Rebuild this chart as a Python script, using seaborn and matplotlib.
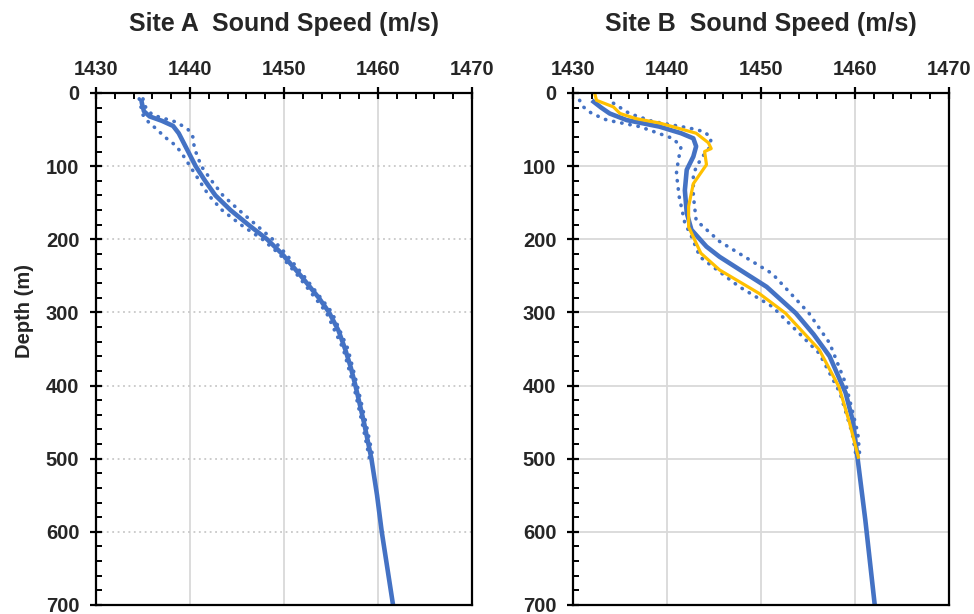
import matplotlib
matplotlib.use("Agg")
import matplotlib.pyplot as plt
from matplotlib.ticker import MultipleLocator
import seaborn as sns
import pandas as pd

# ---- Site A: mean profile and its spread ----
site_a_depth = [8, 15, 25, 32, 38, 45, 55, 70, 85, 100, 120, 140, 160, 180, 200,
                220, 250, 280, 300, 325, 350, 375, 400, 450, 500, 550, 600, 650, 700]
site_a_mean = [1434.8, 1434.9, 1435.1, 1435.7, 1437.0, 1438.2, 1438.8, 1439.4, 1440.0,
               1440.6, 1441.6, 1442.7, 1444.3, 1446.2, 1448.2, 1449.8, 1451.8, 1453.7,
               1454.8, 1455.8, 1456.5, 1457.1, 1457.6, 1458.5, 1459.3, 1459.9, 1460.4,
               1461.0, 1461.6]
site_a_bound_depth = [8, 20, 30, 40, 50, 60, 70, 80, 100, 120, 140, 160, 180, 200,
                      220, 250, 300, 350, 400, 450, 500]
site_a_low = [1434.6, 1434.8, 1435.0, 1435.6, 1436.5, 1437.3, 1438.3, 1439.0, 1440.0,
              1441.0, 1442.0, 1443.4, 1445.4, 1447.7, 1449.5, 1451.5, 1454.5, 1456.3,
              1457.4, 1458.3, 1459.1]
site_a_high = [1435.0, 1435.3, 1436.0, 1438.6, 1439.8, 1440.3, 1440.4, 1440.6, 1441.2,
               1442.3, 1443.5, 1445.2, 1447.0, 1448.8, 1450.2, 1452.1, 1455.1, 1456.8,
               1457.8, 1458.7, 1459.5]

# ---- Site B: mean profile, spread and a single cast ----
site_b_depth = [10, 20, 28, 37, 46, 55, 62, 73, 87, 105, 133, 164, 187, 210, 224, 247,
                265, 301, 330, 360, 410, 450, 502, 584, 700]
site_b_mean = [1432.0, 1433.0, 1433.9, 1435.7, 1439.2, 1441.5, 1442.8, 1443.1, 1442.8,
               1442.1, 1441.9, 1442.1, 1442.6, 1444.2, 1445.6, 1448.4, 1450.6, 1453.7,
               1455.6, 1457.3, 1459.0, 1459.8, 1460.3, 1461.1, 1462.1]
site_b_low_depth = [10, 19, 28, 37, 46, 62, 73, 92, 110, 142, 178, 196, 224, 265, 292,
                    356, 410, 465, 495]
site_b_low = [1430.7, 1431.1, 1432.0, 1433.6, 1437.1, 1440.6, 1441.5, 1441.2, 1441.0,
              1441.3, 1441.9, 1442.6, 1443.5, 1447.7, 1451.2, 1456.2, 1458.4, 1459.7,
              1460.1]
site_b_high_depth = [14, 28, 39, 48, 53, 62, 75, 90, 110, 140, 174, 203, 247, 301, 342,
                     397, 465, 495]
site_b_high = [1434.3, 1436.0, 1438.5, 1442.4, 1444.0, 1444.7, 1444.5, 1443.6, 1442.8,
               1442.8, 1443.1, 1445.6, 1451.2, 1455.1, 1457.3, 1459.0, 1460.3, 1460.5]
site_b_cast_depth = [0, 10, 19, 28, 35, 41, 55, 68, 76, 80, 98, 124, 155, 183, 219,
                     242, 274, 301, 351, 402, 450, 500]
site_b_cast = [1432.3, 1432.5, 1434.3, 1435.0, 1436.7, 1439.2, 1443.1, 1444.4, 1444.7,
               1444.0, 1444.2, 1442.8, 1442.3, 1442.3, 1443.6, 1445.6, 1449.8, 1452.6,
               1456.2, 1458.3, 1459.4, 1460.4]

titles = ["Site A  Sound Speed (m/s)", "Site B  Sound Speed (m/s)"]
speed_ticks = [1430, 1440, 1450, 1460, 1470]
depth_ticks = [0, 100, 200, 300, 400, 500, 600, 700]

BLUE = "#4472C4"
GOLD = "#FFC000"
GRID = "#D9D9D9"

sns.set_style("white")
plt.rcParams["font.family"] = ["Liberation Sans", "DejaVu Sans"]
plt.rcParams["font.weight"] = "bold"

fig = plt.figure(figsize=(9.74, 6.14), dpi=100)
W, H = 974, 614
ax_a = fig.add_axes([96 / W, 9 / H, 376 / W, 512 / H])
ax_b = fig.add_axes([573 / W, 9 / H, 376 / W, 512 / H])

dotted = dict(linestyle=(0, (0.1, 2.2)), dash_capstyle="round", lw=2.6, color=BLUE)


def profile(ax, speed, depth, **kw):
    df = pd.DataFrame({"speed": speed, "depth": depth})
    sns.lineplot(data=df, x="speed", y="depth", sort=False, estimator=None, ax=ax, **kw)


profile(ax_a, site_a_low, site_a_bound_depth, **dotted)
profile(ax_a, site_a_high, site_a_bound_depth, **dotted)
profile(ax_a, site_a_mean, site_a_depth, color=BLUE, lw=3.3, solid_capstyle="butt")

profile(ax_b, site_b_low, site_b_low_depth, **dotted)
profile(ax_b, site_b_high, site_b_high_depth, **dotted)
profile(ax_b, site_b_mean, site_b_depth, color=BLUE, lw=3.3, solid_capstyle="butt")
profile(ax_b, site_b_cast, site_b_cast_depth, color=GOLD, lw=2.3, solid_capstyle="butt")

for i, (ax, title) in enumerate(zip([ax_a, ax_b], titles)):
    ax.set_xlim(1430, 1470)
    ax.set_ylim(700, 0)
    ax.xaxis.tick_top()
    ax.xaxis.set_label_position("top")
    ax.set_xticks(speed_ticks)
    ax.set_yticks(depth_ticks)
    ax.xaxis.set_minor_locator(MultipleLocator(2))
    ax.yaxis.set_minor_locator(MultipleLocator(20))
    ax.tick_params(which="major", direction="inout", length=8, width=1.6,
                   color="black", labelsize=14.5, pad=6)
    ax.tick_params(axis="y", which="major", pad=8)
    ax.tick_params(which="minor", direction="in", length=4, width=1.4, color="black")
    ax.tick_params(axis="x", which="both", top=True, bottom=False)
    ax.tick_params(axis="y", which="both", left=True, right=False)
    for lab in ax.get_xticklabels() + ax.get_yticklabels():
        lab.set_fontweight("bold")
    for sp in ax.spines.values():
        sp.set_visible(True)
        sp.set_color("black")
        sp.set_linewidth(1.6)
    ax.set_xlabel("")
    ax.set_ylabel("")
    ax.set_axisbelow(True)
    ax.grid(True, axis="x", which="major", color=GRID, lw=1.3, linestyle="-")
    if i == 0:
        ax.grid(True, axis="y", which="major", color="#C8C8C8", lw=1.3,
                linestyle=(0, (1, 2)))
    else:
        ax.grid(True, axis="y", which="major", color=GRID, lw=1.3, linestyle="-")
    ax.set_title(title, fontsize=18, fontweight="bold", pad=45)

ax_a.set_ylabel("Depth (m)", fontsize=14.5, fontweight="bold")
ax_a.yaxis.set_label_coords(-0.165, 0.574)

fig.savefig("out.png", dpi=100, facecolor="white")
